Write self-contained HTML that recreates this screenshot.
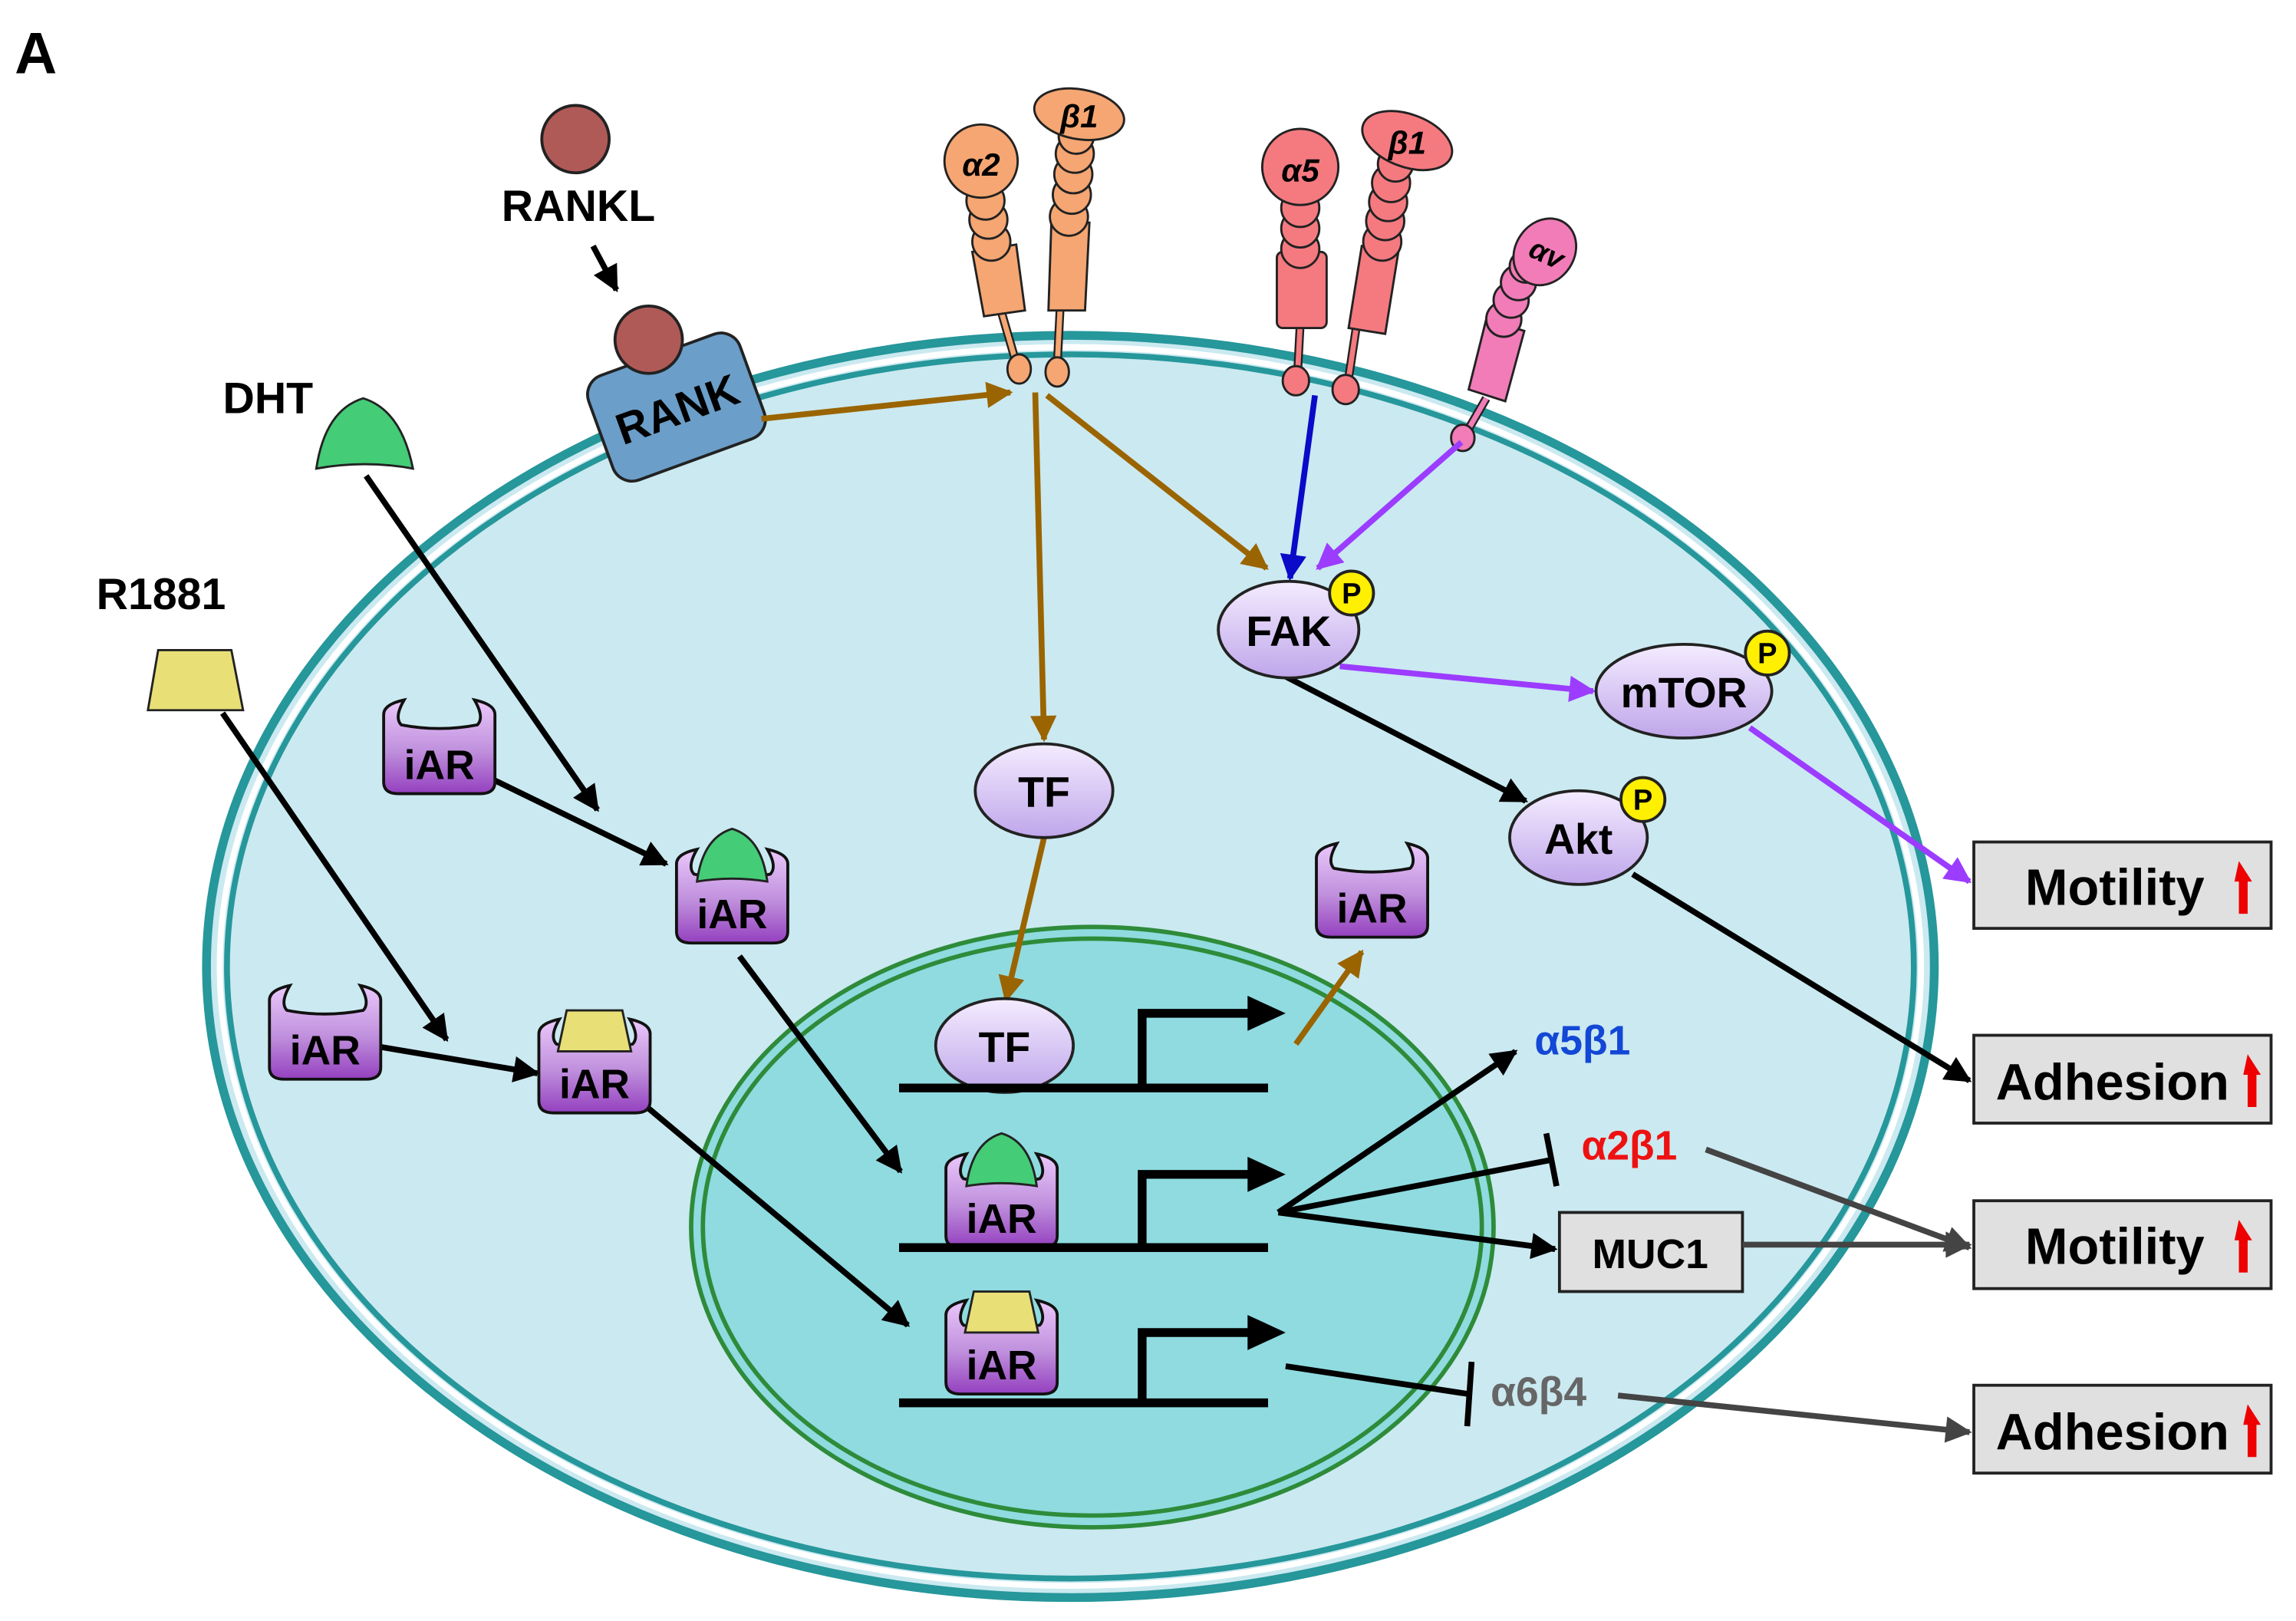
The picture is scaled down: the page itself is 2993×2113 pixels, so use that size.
<!DOCTYPE html>
<html><head><meta charset="utf-8"><style>html,body{margin:0;padding:0;background:#fff}svg{display:block}</style></head>
<body>
<svg width="2993" height="2113" viewBox="0 0 1568 1107" xmlns="http://www.w3.org/2000/svg" font-family="Liberation Sans, Arial, sans-serif">
<defs>
<linearGradient id="gAR" x1="0" y1="0" x2="0" y2="1"><stop offset="0" stop-color="#ebc8fb"/><stop offset="0.55" stop-color="#bf8fdc"/><stop offset="1" stop-color="#9440bf"/></linearGradient>
<linearGradient id="gEl" x1="0" y1="0" x2="0" y2="1"><stop offset="0" stop-color="#f4ecff"/><stop offset="1" stop-color="#bfa6ea"/></linearGradient>
<marker id="mK" viewBox="0 0 10 10" refX="9" refY="5" markerWidth="22" markerHeight="18" markerUnits="userSpaceOnUse" orient="auto"><path d="M0,0L10,5L0,10z" fill="#000"/></marker>
<marker id="mB" viewBox="0 0 10 10" refX="9" refY="5" markerWidth="22" markerHeight="18" markerUnits="userSpaceOnUse" orient="auto"><path d="M0,0L10,5L0,10z" fill="#9a6400"/></marker>
<marker id="mU" viewBox="0 0 10 10" refX="9" refY="5" markerWidth="22" markerHeight="18" markerUnits="userSpaceOnUse" orient="auto"><path d="M0,0L10,5L0,10z" fill="#0a0ac8"/></marker>
<marker id="mP" viewBox="0 0 10 10" refX="9" refY="5" markerWidth="22" markerHeight="18" markerUnits="userSpaceOnUse" orient="auto"><path d="M0,0L10,5L0,10z" fill="#9b3cff"/></marker>
<marker id="mG" viewBox="0 0 10 10" refX="9" refY="5" markerWidth="22" markerHeight="18" markerUnits="userSpaceOnUse" orient="auto"><path d="M0,0L10,5L0,10z" fill="#444"/></marker>
<path id="cup" d="M-38,-24 Q-38,-31 -24,-34 Q-31,-22 -26,-17 Q0,-12 26,-17 Q31,-22 24,-34 Q38,-31 38,-24 L38,22 Q38,30 28,30 L-28,30 Q-38,30 -38,22 Z" fill="url(#gAR)" stroke="#111" stroke-width="2"/>
</defs>

<text x="10" y="50" font-size="40" font-weight="bold">A</text>

<!-- cell -->
<ellipse cx="731" cy="660" rx="590" ry="431" fill="#cbe9f0" stroke="#26979b" stroke-width="6"/>
<ellipse cx="731" cy="660" rx="581" ry="423" fill="none" stroke="#ffffff" stroke-width="4"/>
<ellipse cx="731" cy="660" rx="576" ry="418" fill="none" stroke="#26979b" stroke-width="4"/>

<!-- nucleus -->
<ellipse cx="746" cy="838" rx="274" ry="205" fill="#8fdbe0" stroke="#2e8b3a" stroke-width="3"/>
<ellipse cx="746" cy="838" rx="266" ry="197" fill="none" stroke="#2e8b3a" stroke-width="3"/>

<!-- RANKL / RANK -->
<circle cx="393" cy="95" r="23" fill="#b05a57" stroke="#222" stroke-width="2"/>
<text x="395" y="151" font-size="30" font-weight="bold" text-anchor="middle">RANKL</text>
<line x1="405" y1="168" x2="421" y2="198" stroke="#000" stroke-width="4" marker-end="url(#mK)"/>
<g transform="translate(462,278) rotate(-20)">
<rect x="-55" y="-38" width="110" height="76" rx="14" fill="#6b9ec8" stroke="#222" stroke-width="2"/>
<text x="0" y="12" font-size="30" font-weight="bold" text-anchor="middle">RANK</text>
</g>
<circle cx="443" cy="232" r="23" fill="#b05a57" stroke="#222" stroke-width="2"/>

<!-- integrin a2 -->
<g fill="#f5a672" stroke="#222" stroke-width="1.5">
<line x1="683" y1="210" x2="694" y2="248" stroke-width="6" stroke="#222"/><line x1="683" y1="210" x2="694" y2="248" stroke-width="3.5" stroke="#f5a672"/>
<line x1="724" y1="210" x2="722" y2="250" stroke-width="6" stroke="#222"/><line x1="724" y1="210" x2="722" y2="250" stroke-width="3.5" stroke="#f5a672"/>
<polygon points="664,172 694,167 700,212 672,216"/>
<circle cx="677" cy="165" r="13"/><circle cx="675" cy="150" r="13"/><circle cx="673" cy="137" r="13"/>
<circle cx="670" cy="110" r="25"/>
<polygon points="718,152 744,152 741,212 716,212"/>
<circle cx="730" cy="148" r="13"/><circle cx="732" cy="133" r="13"/><circle cx="733" cy="119" r="13"/><circle cx="734" cy="105" r="13"/><circle cx="735" cy="93" r="12"/>
<ellipse cx="737" cy="78" rx="31" ry="17" transform="rotate(10 737 78)"/>
<ellipse cx="696" cy="252" rx="8" ry="10"/><ellipse cx="722" cy="254" rx="8" ry="10"/>
</g>
<text x="670" y="120" font-size="22" font-weight="bold" font-style="italic" text-anchor="middle">α2</text>
<text x="737" y="87" font-size="22" font-weight="bold" font-style="italic" text-anchor="middle">β1</text>

<!-- integrin a5 b1 -->
<g fill="#f47a80" stroke="#222" stroke-width="1.5">
<line x1="888" y1="220" x2="886" y2="258" stroke-width="6" stroke="#222"/><line x1="888" y1="220" x2="886" y2="258" stroke-width="3.5" stroke="#f47a80"/>
<line x1="926" y1="225" x2="920" y2="265" stroke-width="6" stroke="#222"/><line x1="926" y1="225" x2="920" y2="265" stroke-width="3.5" stroke="#f47a80"/>
<rect x="872" y="172" width="34" height="52" rx="4"/>
<circle cx="888" cy="170" r="13"/><circle cx="888" cy="156" r="13"/><circle cx="888" cy="142" r="13"/>
<circle cx="888" cy="114" r="26"/>
<polygon points="930,168 955,172 946,228 921,224"/>
<circle cx="944" cy="165" r="13"/><circle cx="946" cy="151" r="13"/><circle cx="948" cy="138" r="13"/><circle cx="950" cy="125" r="13"/><circle cx="953" cy="112" r="12"/>
<ellipse cx="961" cy="96" rx="32" ry="18" transform="rotate(20 961 96)"/>
<ellipse cx="885" cy="260" rx="9" ry="10"/><ellipse cx="919" cy="266" rx="9" ry="10"/>
</g>
<text x="888" y="124" font-size="22" font-weight="bold" font-style="italic" text-anchor="middle">α5</text>
<text x="961" y="105" font-size="22" font-weight="bold" font-style="italic" text-anchor="middle">β1</text>

<!-- integrin av -->
<g fill="#f17cb8" stroke="#222" stroke-width="1.5">
<line x1="1015" y1="272" x2="1000" y2="298" stroke-width="6" stroke="#222"/><line x1="1015" y1="272" x2="1000" y2="298" stroke-width="3.5" stroke="#f17cb8"/>
<polygon points="1015,218 1041,226 1028,274 1003,266"/>
<circle cx="1027" cy="218" r="12"/><circle cx="1032" cy="205" r="12"/><circle cx="1037" cy="193" r="12"/><circle cx="1042" cy="182" r="11"/>
<ellipse cx="1055" cy="172" rx="20" ry="24" transform="rotate(35 1055 172)"/>
<ellipse cx="999" cy="299" rx="8" ry="9"/>
</g>
<text x="1056" y="180" font-size="20" font-weight="bold" font-style="italic" text-anchor="middle" transform="rotate(25 1056 174)">αv</text>

<!-- DHT & R1881 -->
<text x="183" y="282" font-size="30" font-weight="bold" text-anchor="middle">DHT</text>
<path d="M216,320 Q222,280 248,272 Q274,280 282,320 Q249,314 216,320Z" fill="#44cc77" stroke="#222" stroke-width="1.5"/>
<text x="110" y="416" font-size="30" font-weight="bold" text-anchor="middle">R1881</text>
<path d="M108,444 L158,444 L166,485 L101,485 Z" fill="#e8e077" stroke="#222" stroke-width="1.5"/>

<!-- black arrows cytoplasm -->
<g stroke="#000" stroke-width="4" fill="none">
<line x1="250" y1="325" x2="408" y2="553" marker-end="url(#mK)"/>
<line x1="152" y1="487" x2="305" y2="710" marker-end="url(#mK)"/>
<line x1="338" y1="533" x2="455" y2="590" marker-end="url(#mK)"/>
<line x1="505" y1="653" x2="615" y2="800" marker-end="url(#mK)"/>
<line x1="260" y1="715" x2="367" y2="733" marker-end="url(#mK)"/>
<line x1="443" y1="757" x2="620" y2="905" marker-end="url(#mK)"/>
</g>

<!-- iARs -->
<g transform="translate(300,512)"><use href="#cup"/><text x="0" y="20" font-size="28" font-weight="bold" text-anchor="middle">iAR</text></g>
<g transform="translate(222,707)"><use href="#cup"/><text x="0" y="20" font-size="28" font-weight="bold" text-anchor="middle">iAR</text></g>
<g transform="translate(937,610)"><use href="#cup"/><text x="0" y="20" font-size="28" font-weight="bold" text-anchor="middle">iAR</text></g>
<g transform="translate(500,614)"><use href="#cup"/><path d="M-24,-12 Q-20,-42 0,-48 Q20,-42 24,-12 Q0,-16 -24,-12Z" fill="#44cc77" stroke="#222" stroke-width="1.5"/><text x="0" y="20" font-size="28" font-weight="bold" text-anchor="middle">iAR</text></g>
<g transform="translate(684,822)"><use href="#cup"/><path d="M-24,-12 Q-20,-42 0,-48 Q20,-42 24,-12 Q0,-16 -24,-12Z" fill="#44cc77" stroke="#222" stroke-width="1.5"/><text x="0" y="20" font-size="28" font-weight="bold" text-anchor="middle">iAR</text></g>
<g transform="translate(406,730)"><use href="#cup"/><path d="M-19,-40 L19,-40 L25,-12 L-25,-12Z" fill="#e8e077" stroke="#222" stroke-width="1.5"/><text x="0" y="20" font-size="28" font-weight="bold" text-anchor="middle">iAR</text></g>
<g transform="translate(684,922)"><use href="#cup"/><path d="M-19,-40 L19,-40 L25,-12 L-25,-12Z" fill="#e8e077" stroke="#222" stroke-width="1.5"/><text x="0" y="20" font-size="28" font-weight="bold" text-anchor="middle">iAR</text></g>

<!-- brown arrows -->
<g stroke="#9a6400" stroke-width="4" fill="none">
<line x1="520" y1="286" x2="690" y2="268" marker-end="url(#mB)"/>
<line x1="707" y1="268" x2="713" y2="505" marker-end="url(#mB)"/>
<line x1="715" y1="270" x2="865" y2="388" marker-end="url(#mB)"/>
<line x1="713" y1="572" x2="687" y2="683" marker-end="url(#mB)"/>
<line x1="885" y1="713" x2="930" y2="650" marker-end="url(#mB)"/>
</g>
<line x1="898" y1="270" x2="881" y2="395" stroke="#0a0ac8" stroke-width="4" marker-end="url(#mU)"/>
<g stroke="#9b3cff" stroke-width="4">
<line x1="998" y1="302" x2="900" y2="388" marker-end="url(#mP)"/>
<line x1="915" y1="455" x2="1088" y2="472" marker-end="url(#mP)"/>
<line x1="1195" y1="497" x2="1345" y2="602" marker-end="url(#mP)"/>
</g>
<g stroke="#000" stroke-width="4">
<line x1="878" y1="462" x2="1042" y2="547" marker-end="url(#mK)"/>
<line x1="1115" y1="597" x2="1345" y2="738" marker-end="url(#mK)"/>
</g>

<!-- TF / kinases -->
<ellipse cx="713" cy="540" rx="47" ry="32" fill="url(#gEl)" stroke="#222" stroke-width="2"/>
<text x="713" y="551" font-size="29" font-weight="bold" text-anchor="middle">TF</text>
<ellipse cx="686" cy="714" rx="47" ry="32" fill="url(#gEl)" stroke="#222" stroke-width="2"/>
<text x="686" y="725" font-size="29" font-weight="bold" text-anchor="middle">TF</text>
<ellipse cx="880" cy="430" rx="48" ry="33" fill="url(#gEl)" stroke="#222" stroke-width="2"/>
<text x="880" y="441" font-size="29" font-weight="bold" text-anchor="middle">FAK</text>
<ellipse cx="1150" cy="472" rx="60" ry="32" fill="url(#gEl)" stroke="#222" stroke-width="2"/>
<text x="1150" y="483" font-size="29" font-weight="bold" text-anchor="middle">mTOR</text>
<ellipse cx="1078" cy="572" rx="47" ry="32" fill="url(#gEl)" stroke="#222" stroke-width="2"/>
<text x="1078" y="583" font-size="29" font-weight="bold" text-anchor="middle">Akt</text>
<g font-size="20" font-weight="bold" text-anchor="middle">
<circle cx="923" cy="405" r="15" fill="#ffef00" stroke="#222" stroke-width="2"/><text x="923" y="412">P</text>
<circle cx="1207" cy="446" r="15" fill="#ffef00" stroke="#222" stroke-width="2"/><text x="1207" y="453">P</text>
<circle cx="1122" cy="546" r="15" fill="#ffef00" stroke="#222" stroke-width="2"/><text x="1122" y="553">P</text>
</g>

<!-- genes -->
<g stroke="#000" stroke-width="6" fill="none">
<line x1="614" y1="743" x2="866" y2="743"/><polyline points="780,743 780,692 858,692"/>
<line x1="614" y1="852" x2="866" y2="852"/><polyline points="780,852 780,802 858,802"/>
<line x1="614" y1="958" x2="866" y2="958"/><polyline points="780,958 780,910 858,910"/>
</g>
<g fill="#000"><path d="M852,680 L878,692 L852,704Z"/><path d="M852,790 L878,802 L852,814Z"/><path d="M852,898 L878,910 L852,922Z"/></g>

<!-- outputs -->
<g stroke="#000" stroke-width="4">
<line x1="873" y1="828" x2="1035" y2="718" marker-end="url(#mK)"/>
<line x1="873" y1="828" x2="1060" y2="792"/><line x1="1056" y1="774" x2="1063" y2="810"/>
<line x1="873" y1="828" x2="1062" y2="853" marker-end="url(#mK)"/>
<line x1="878" y1="933" x2="1003" y2="952"/><line x1="1005" y1="930" x2="1002" y2="974"/>
</g>
<text x="1048" y="720" font-size="28" font-weight="bold" fill="#1347d6">α5β1</text>
<text x="1080" y="792" font-size="28" font-weight="bold" fill="#ee1111">α2β1</text>
<text x="1018" y="960" font-size="28" font-weight="bold" fill="#666">α6β4</text>
<rect x="1065" y="828" width="125" height="54" fill="#e0e0e0" stroke="#222" stroke-width="2"/>
<text x="1127" y="866" font-size="28" font-weight="bold" text-anchor="middle">MUC1</text>
<g stroke="#444" stroke-width="4">
<line x1="1165" y1="785" x2="1345" y2="852" marker-end="url(#mG)"/>
<line x1="1190" y1="850" x2="1345" y2="850" marker-end="url(#mG)"/>
<line x1="1105" y1="953" x2="1345" y2="978" marker-end="url(#mG)"/>
</g>

<!-- boxes -->
<g font-size="35" font-weight="bold">
<rect x="1348" y="575" width="203" height="59" fill="#e0e0e0" stroke="#222" stroke-width="2"/>
<text x="1383" y="618">Motility</text>
<rect x="1348" y="707" width="203" height="60" fill="#e0e0e0" stroke="#222" stroke-width="2"/>
<text x="1363" y="751">Adhesion</text>
<rect x="1348" y="820" width="203" height="60" fill="#e0e0e0" stroke="#222" stroke-width="2"/>
<text x="1383" y="863">Motility</text>
<rect x="1348" y="946" width="203" height="60" fill="#e0e0e0" stroke="#222" stroke-width="2"/>
<text x="1363" y="990">Adhesion</text>
</g>
<g fill="#ee0000">
<path d="M1525,588 L1534,602 L1531,602 L1531,624 L1525,624 L1525,602 L1522,602Z" transform="translate(4,0)"/>
<path d="M1535,720 L1544,734 L1541,734 L1541,756 L1535,756 L1535,734 L1532,734Z"/>
<path d="M1525,833 L1534,847 L1531,847 L1531,869 L1525,869 L1525,847 L1522,847Z" transform="translate(4,0)"/>
<path d="M1535,959 L1544,973 L1541,973 L1541,995 L1535,995 L1535,973 L1532,973Z"/>
</g>
</svg>
</body></html>
